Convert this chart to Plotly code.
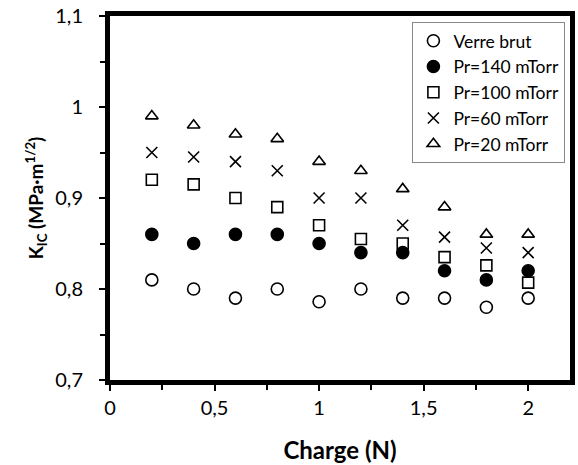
import plotly.graph_objects as go

charge = [0.2, 0.4, 0.6, 0.8, 1.0, 1.2, 1.4, 1.6, 1.8, 2.0]
verre_brut = [0.81, 0.80, 0.79, 0.80, 0.786, 0.80, 0.79, 0.79, 0.78, 0.79]
pr140 = [0.86, 0.85, 0.86, 0.86, 0.85, 0.84, 0.84, 0.82, 0.81, 0.82]
pr100 = [0.92, 0.915, 0.90, 0.89, 0.87, 0.855, 0.85, 0.835, 0.826, 0.807]
pr60 = [0.95, 0.945, 0.94, 0.93, 0.90, 0.90, 0.87, 0.857, 0.845, 0.84]
pr20 = [0.99, 0.98, 0.97, 0.965, 0.94, 0.93, 0.91, 0.89, 0.86, 0.86]
names = ["Verre brut", "Pr=140 mTorr", "Pr=100 mTorr", "Pr=60 mTorr", "Pr=20 mTorr"]
x_ticks = [0, 0.5, 1, 1.5, 2]
x_ticklabels = ["0", "0,5", "1", "1,5", "2"]
y_ticks = [0.7, 0.8, 0.9, 1.0, 1.1]
y_ticklabels = ["0,7", "0,8", "0,9", "1", "1,1"]

series = [verre_brut, pr140, pr100, pr60, pr20]
symbols = ["circle-open", "circle", "square-open", "x-thin-open", "triangle-up-open"]
sizes = [12, 12, 11, 11, 11]

FONT = "Lato"
fig = go.Figure()
for name, ys, sym, sz in zip(names, series, symbols, sizes):
    fig.add_trace(go.Scatter(
        x=charge, y=ys, mode="markers", name=name,
        marker=dict(symbol=sym, size=sz, color="black",
                    line=dict(color="black", width=1.6)),
    ))

axis_common = dict(
    showline=True, linecolor="black", linewidth=5, mirror=True,
    ticks="outside", ticklen=6, tickwidth=1.5, tickcolor="black",
    showgrid=False, zeroline=False,
    tickfont=dict(family=FONT, size=20, color="black"),
)
fig.update_xaxes(
    range=[0, 2.2], tickvals=x_ticks, ticktext=x_ticklabels,
    minor=dict(dtick=0.25, ticks="outside", ticklen=5, tickwidth=1.5, tickcolor="black", tick0=0),
    title=dict(text="<b>Charge (N)</b>", font=dict(family=FONT, size=24, color="black"), standoff=26),
    **axis_common,
)
fig.update_yaxes(
    range=[0.7, 1.1], tickvals=y_ticks, ticktext=y_ticklabels,
    ticklabelstandoff=12,
    minor=dict(dtick=0.05, ticks="outside", ticklen=5, tickwidth=1.5, tickcolor="black", tick0=0.7),
    title=dict(text="<b>K<sub>IC</sub> (MPa·m<sup>1/2</sup>)</b>", font=dict(family=FONT, size=19, color="black"), standoff=8),
    **axis_common,
)
fig.update_layout(
    width=578, height=465,
    margin=dict(l=110, r=3, t=15, b=85),
    plot_bgcolor="white", paper_bgcolor="white",
    legend=dict(
        x=0.99, y=0.984, xanchor="right", yanchor="top",
        bgcolor="white", bordercolor="#888888", borderwidth=1,
        font=dict(family=FONT, size=17.5, color="black"),
        tracegroupgap=0, itemwidth=30,
    ),
)
fig.write_html("out.html")
